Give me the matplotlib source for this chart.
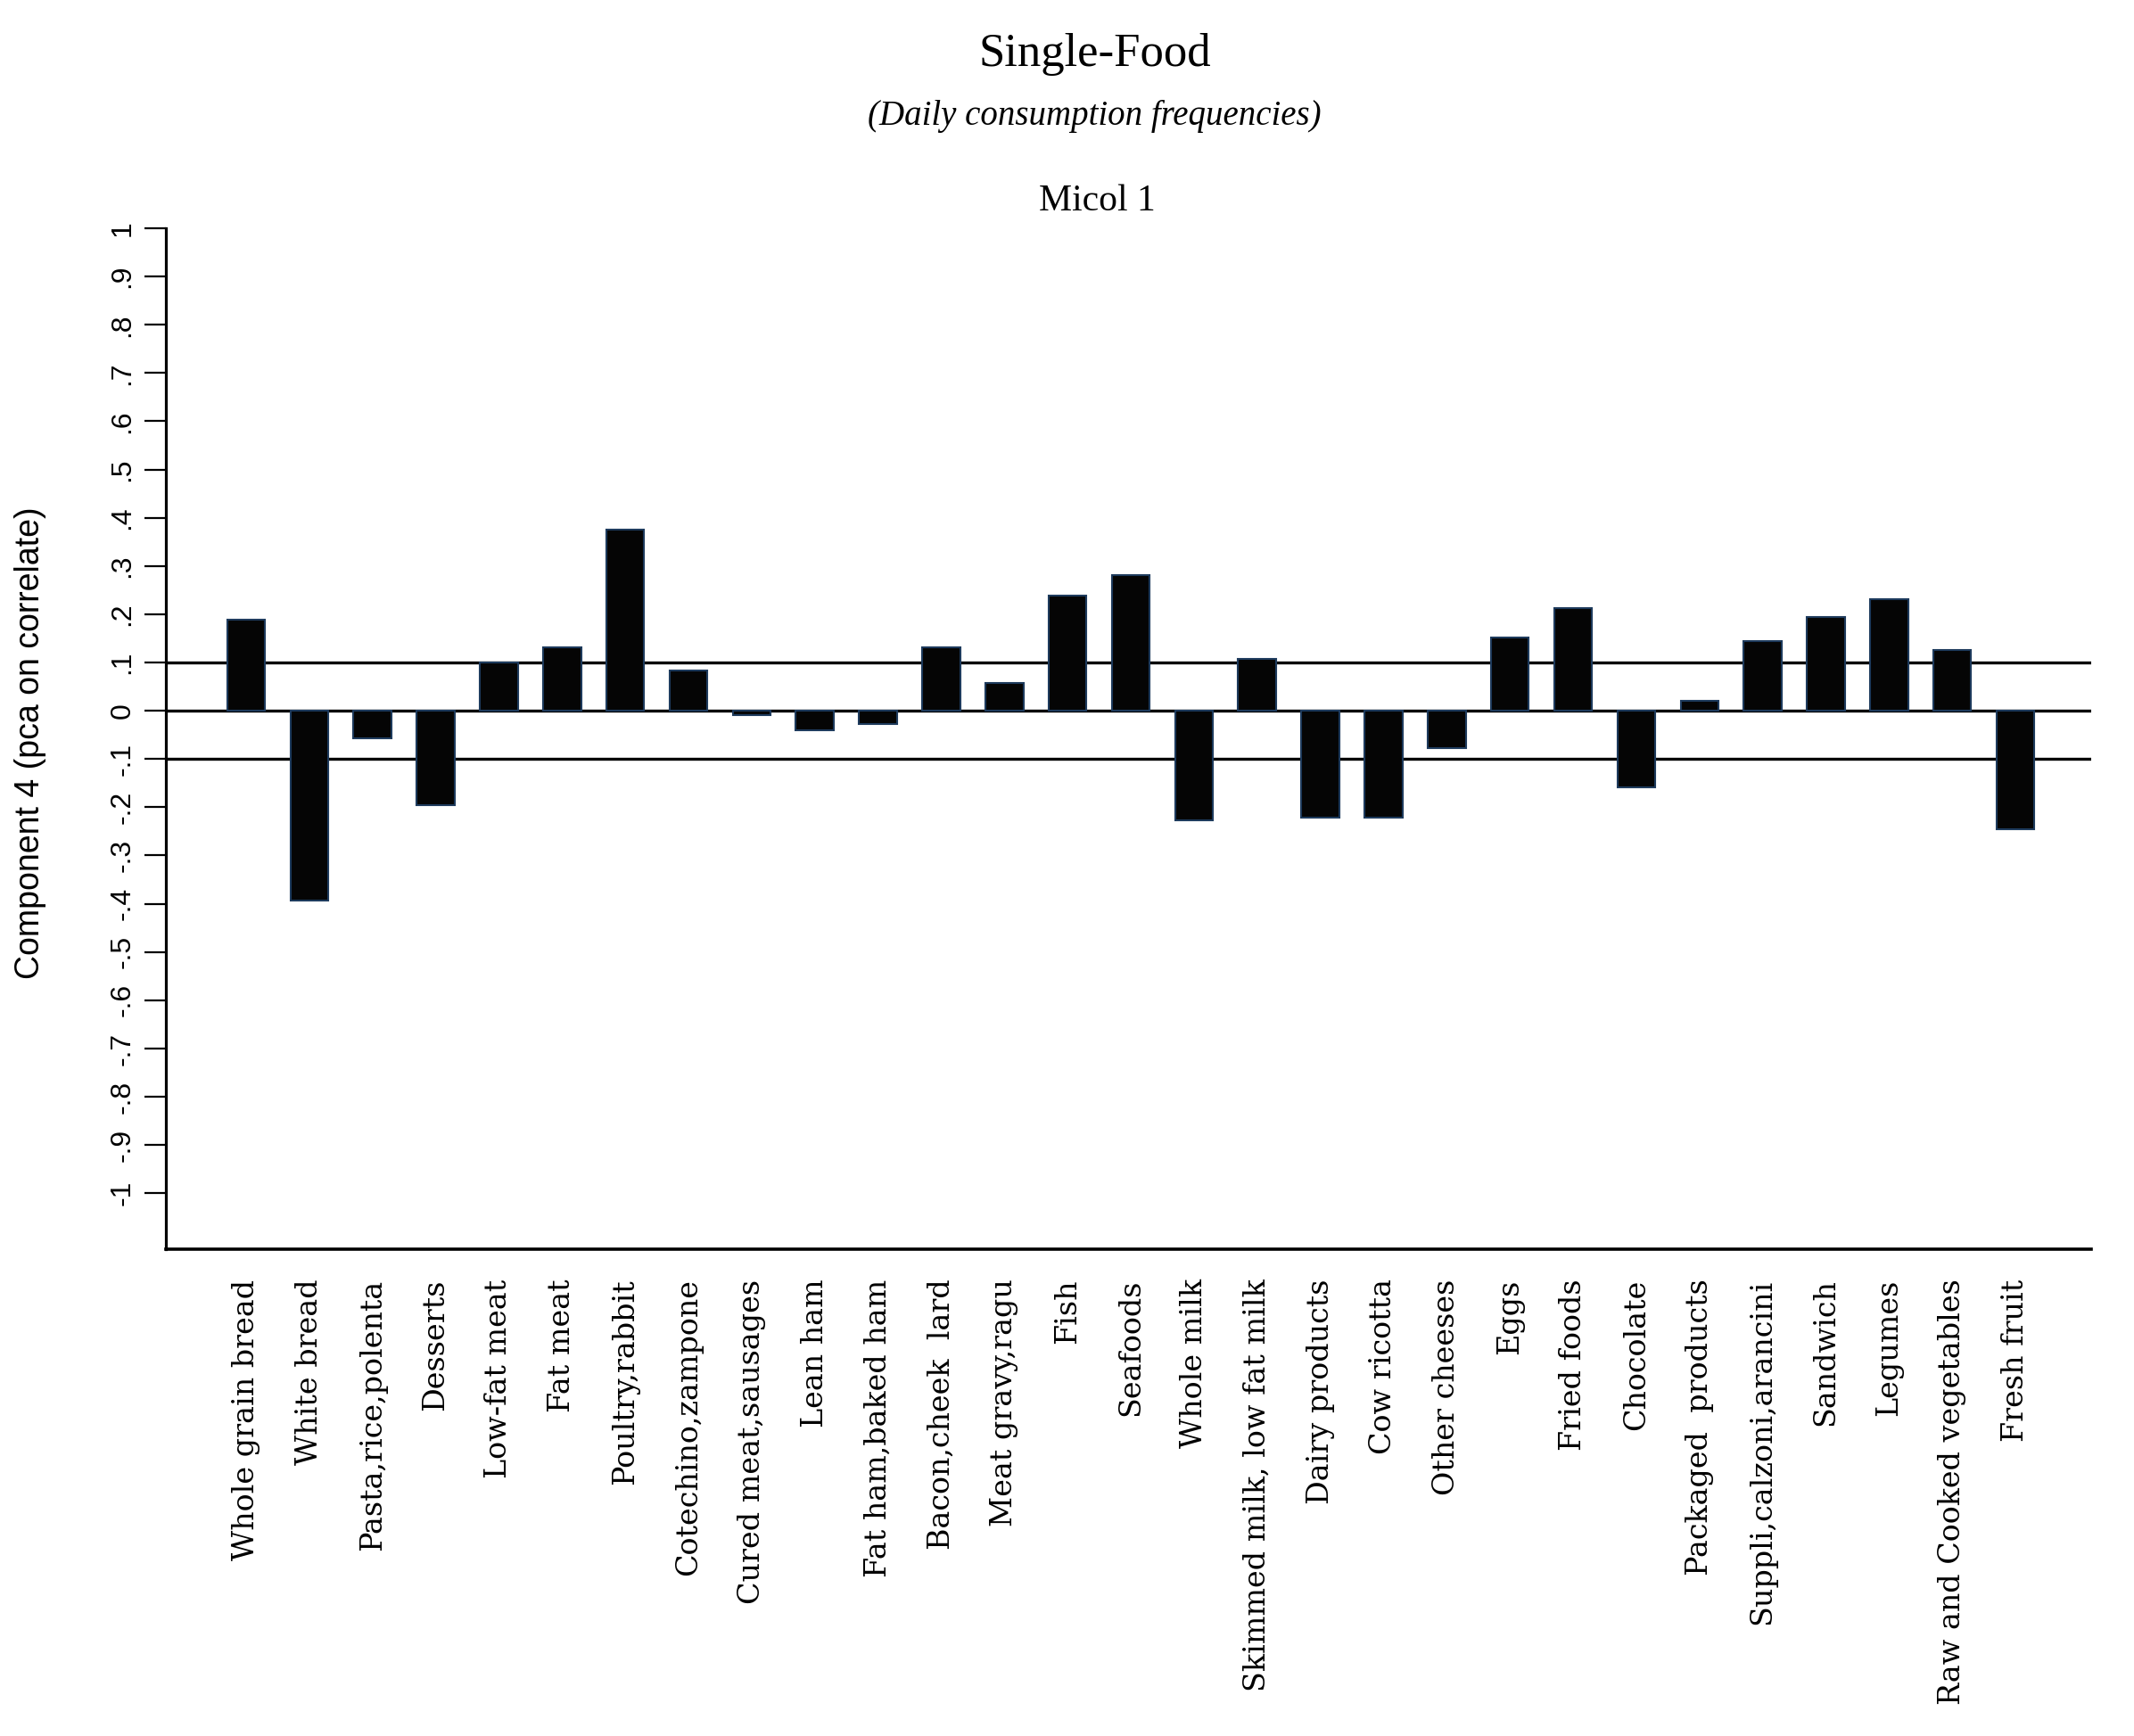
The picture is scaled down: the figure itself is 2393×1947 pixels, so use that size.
import matplotlib
matplotlib.use("Agg")
import matplotlib.pyplot as plt

# Datos: cargas del componente 4 por alimento
alimentos = [
    "Whole grain bread", "White bread", "Pasta,rice,polenta", "Desserts",
    "Low-fat meat", "Fat meat", "Poultry,rabbit", "Cotechino,zampone",
    "Cured meat,sausages", "Lean ham", "Fat ham,baked ham", "Bacon,cheek  lard",
    "Meat gravy,ragu", "Fish", "Seafoods", "Whole milk",
    "Skimmed milk, low fat milk", "Dairy products", "Cow ricotta", "Other cheeses",
    "Eggs", "Fried foods", "Chocolate", "Packaged  products",
    "Suppli,calzoni,arancini", "Sandwich", "Legumes", "Raw and Cooked vegetables",
    "Fresh fruit",
]
cargas = [
    0.188, -0.394, -0.057, -0.195,
    0.100, 0.132, 0.375, 0.083,
    -0.009, -0.040, -0.028, 0.132,
    0.057, 0.238, 0.282, -0.227,
    0.107, -0.221, -0.221, -0.077,
    0.151, 0.213, -0.158, 0.021,
    0.145, 0.194, 0.231, 0.126,
    -0.245,
]
ticks_y = [1, .9, .8, .7, .6, .5, .4, .3, .2, .1, 0,
           -.1, -.2, -.3, -.4, -.5, -.6, -.7, -.8, -.9, -1]
etiquetas_y = ["1", ".9", ".8", ".7", ".6", ".5", ".4", ".3", ".2", ".1", "0",
               "-.1", "-.2", "-.3", "-.4", "-.5", "-.6", "-.7", "-.8", "-.9", "-1"]
lineas_ref = [0.1, 0.0, -0.1]

fig = plt.figure(figsize=(23.93, 19.47), dpi=100)
ax = fig.add_axes([0.0777, 0.2804, 0.9023, 0.5881])

x = list(range(len(alimentos)))
ax.bar(x, cargas, width=0.6, color="#050505", edgecolor="#1d3a5c", linewidth=1.5, zorder=3)

for y in lineas_ref:
    ax.axhline(y, color="black", linewidth=2.4, zorder=2)

ax.set_xlim(-1.27, 29.2)
ax.set_ylim(-1.116, 1.0)

ax.spines["top"].set_visible(False)
ax.spines["right"].set_visible(False)
ax.spines["left"].set_linewidth(2.3)
ax.spines["bottom"].set_linewidth(2.6)

ax.set_yticks(ticks_y)
ax.set_yticklabels(etiquetas_y, rotation=90, va="center",
                   fontfamily="Liberation Sans", fontsize=23)
ax.tick_params(axis="y", length=17, width=1.6, pad=7)

ax.set_xticks(x)
ax.set_xticklabels(alimentos, rotation=90, va="top", ha="center",
                   fontfamily="DejaVu Serif", fontsize=24)
ax.tick_params(axis="x", length=0, pad=24)

fig.text(0.0142, 0.572, "Component 4 (pca on correlate)", rotation=90,
         ha="center", va="center", fontfamily="Liberation Sans", fontsize=27)

fig.text(0.513, 0.9687, "Single-Food", ha="center", va="center",
         fontfamily="Liberation Serif", fontsize=38)
fig.text(0.513, 0.933, "(Daily consumption frequencies)", ha="center", va="center",
         fontfamily="Liberation Serif", style="italic", fontsize=28)
fig.text(0.514, 0.884, "Micol 1", ha="center", va="center",
         fontfamily="Liberation Serif", fontsize=30)

fig.savefig("out.png", dpi=100)
